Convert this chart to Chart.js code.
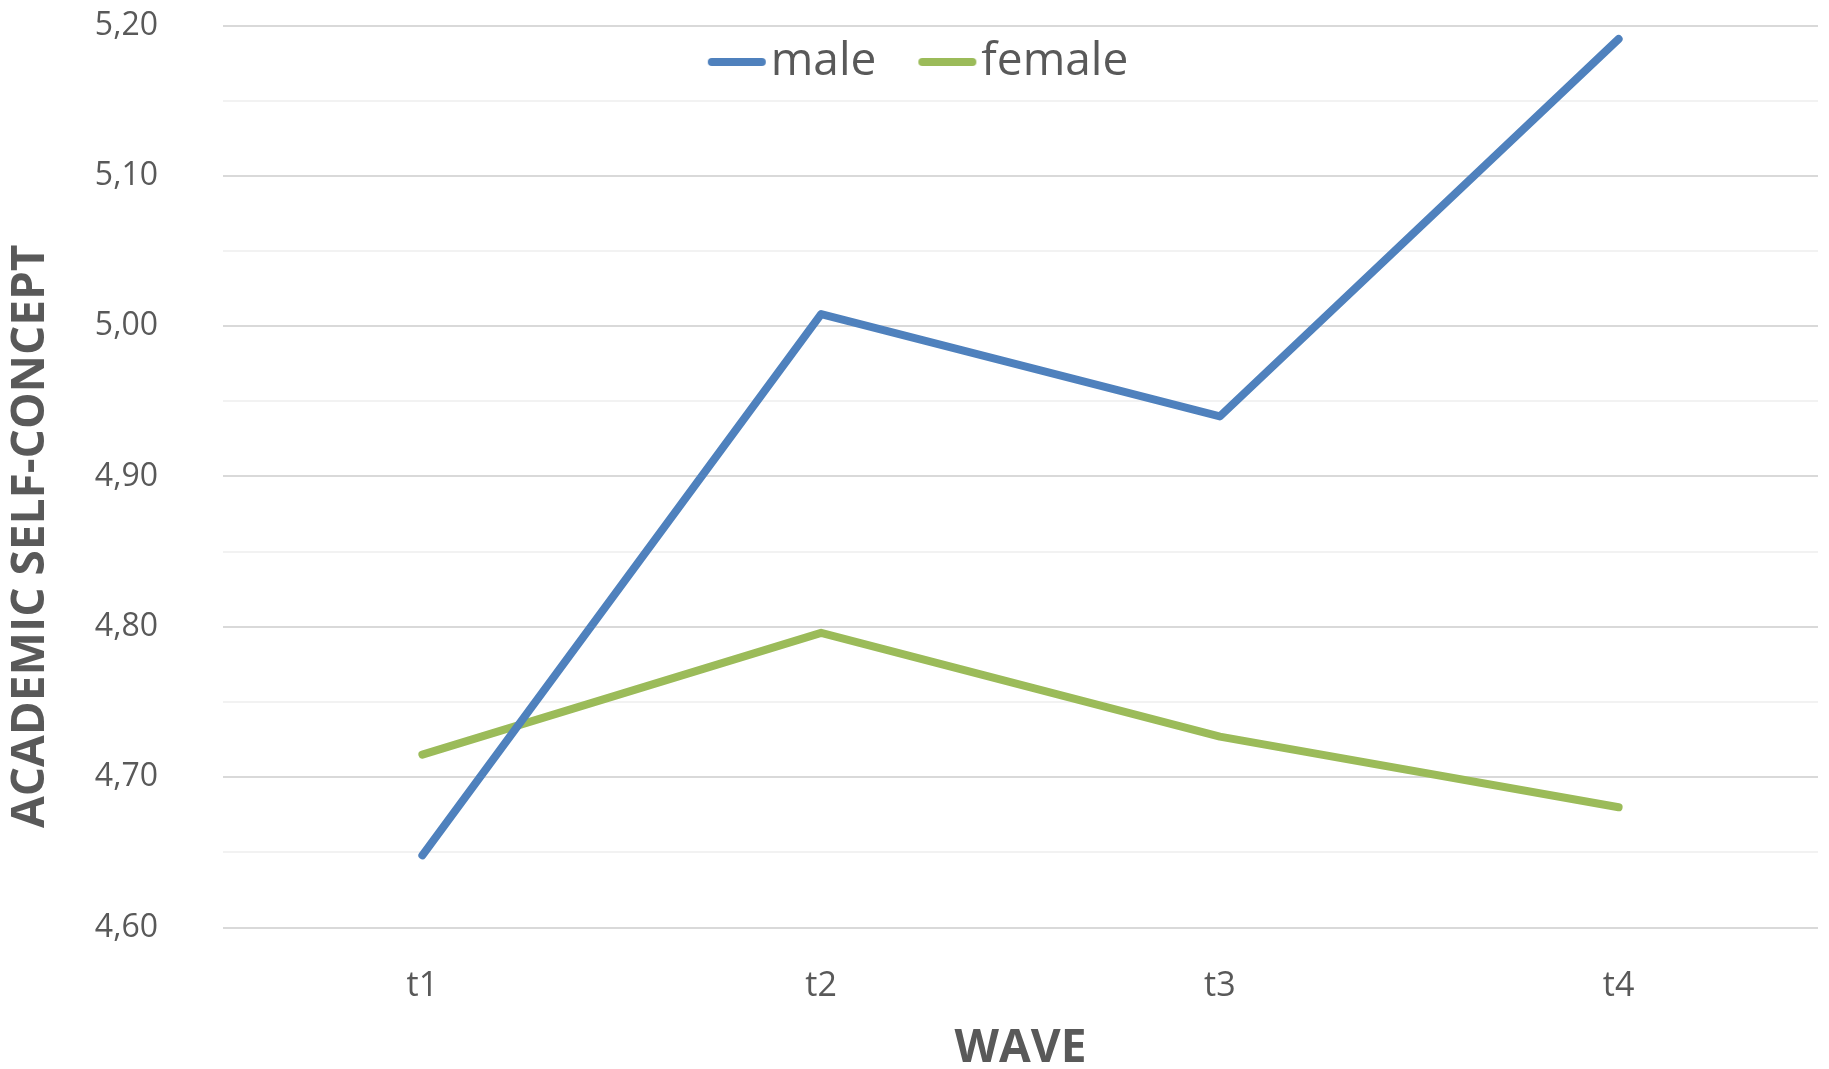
<!DOCTYPE html>
<html>
<head>
<meta charset="utf-8">
<script src="https://cdn.jsdelivr.net/npm/chart.js@4.4.1/dist/chart.umd.min.js"></script>
<style>
  html, body { margin: 0; padding: 0; background: #ffffff; }
  #wrap { width: 1829px; height: 1069px; position: relative; }
</style>
</head>
<body>
<div id="wrap"><canvas id="c"></canvas></div>
<script>
// ---- data ----
const waves = ['t1', 't2', 't3', 't4'];
const maleValues = [4.648, 5.008, 4.940, 5.191];
const femaleValues = [4.715, 4.796, 4.727, 4.680];
const seriesNames = ['male', 'female'];
const seriesColors = ['#4F81BD', '#9BBB59'];
const yTitle = 'ACADEMIC SELF-CONCEPT';
const xTitle = 'WAVE';
const yMin = 4.60, yMax = 5.20, yStep = 0.05;

const TEXT = '#595959';
const FONT = "'Open Sans', 'DejaVu Sans', sans-serif";
const LINE_W = 8;

// legend marker: a short line (image point style) sitting close to its label
function legendMarker(color) {
  const c = document.createElement('canvas');
  c.width = 86; c.height = 14;
  const g = c.getContext('2d');
  g.strokeStyle = color;
  g.lineWidth = LINE_W;
  g.lineCap = 'round';
  g.beginPath();
  g.moveTo(30, 7);
  g.lineTo(80, 7);
  g.stroke();
  return c;
}

const legendInside = {
  id: 'legendInside',
  beforeInit(chart) {
    const fit = chart.legend.fit;
    chart.legend.fit = function () { fit.call(this); this.height = 0; };
  },
  afterLayout(chart) {
    const lg = chart.legend;
    lg.top = 3;
    lg.height = 110;
    lg.bottom = lg.top + lg.height;
    lg.left = 0;
    lg.right = 1830;
    lg.width = lg.right - lg.left;
  }
};

function makeDataset(i, values) {
  return {
    label: seriesNames[i],
    data: values,
    borderColor: seriesColors[i],
    backgroundColor: seriesColors[i],
    borderWidth: LINE_W,
    borderCapStyle: 'round',
    borderJoinStyle: 'round',
    pointRadius: 0,
    pointHoverRadius: 0,
    pointStyle: legendMarker(seriesColors[i]),
    tension: 0,
    fill: false
  };
}

new Chart(document.getElementById('c'), {
  type: 'line',
  data: {
    labels: waves,
    datasets: [makeDataset(0, maleValues), makeDataset(1, femaleValues)]
  },
  options: {
    responsive: true,
    maintainAspectRatio: false,
    animation: false,
    layout: { padding: { top: 25.5, right: 11, bottom: 0, left: 0 } },
    plugins: {
      tooltip: { enabled: false },
      legend: {
        display: true,
        position: 'top',
        align: 'center',
        labels: {
          usePointStyle: true,
          boxWidth: 46,
          boxHeight: 46,
          padding: 36,
          color: TEXT,
          font: { family: FONT, size: 46 }
        }
      }
    },
    scales: {
      x: {
        type: 'category',
        offset: true,
        grid: { display: false, drawTicks: false },
        border: { display: false },
        ticks: {
          padding: 38,
          color: TEXT,
          font: { family: FONT, size: 34 }
        },
        title: {
          display: true,
          text: xTitle,
          color: TEXT,
          font: { family: FONT, size: 46, weight: 'bold', lineHeight: 1 },
          padding: { top: 0, bottom: -3 }
        },
        afterFit(scale) { scale.height = 141.5; }
      },
      y: {
        min: yMin,
        max: yMax,
        grid: {
          drawTicks: false,
          lineWidth: 2,
          color: (ctx) => (ctx.index % 2 === 0 ? '#D9D9D9' : '#F2F2F2')
        },
        border: { display: false },
        ticks: {
          stepSize: yStep,
          autoSkip: false,
          padding: 65,
          color: TEXT,
          font: { family: FONT, size: 32 },
          callback: (value, index) => (index % 2 === 0 ? Number(value).toFixed(2).replace('.', ',') : '')
        },
        title: {
          display: true,
          text: yTitle + '\u00A0'.repeat(10),
          color: TEXT,
          font: { family: FONT, size: 46, weight: 'bold', lineHeight: 1 },
          padding: { top: 8, bottom: 0 }
        },
        afterFit(scale) {
          scale.width = 223;
          scale.paddingTop = 0;
          scale.paddingBottom = 0;
        }
      }
    }
  },
  plugins: [legendInside]
});
</script>
</body>
</html>
